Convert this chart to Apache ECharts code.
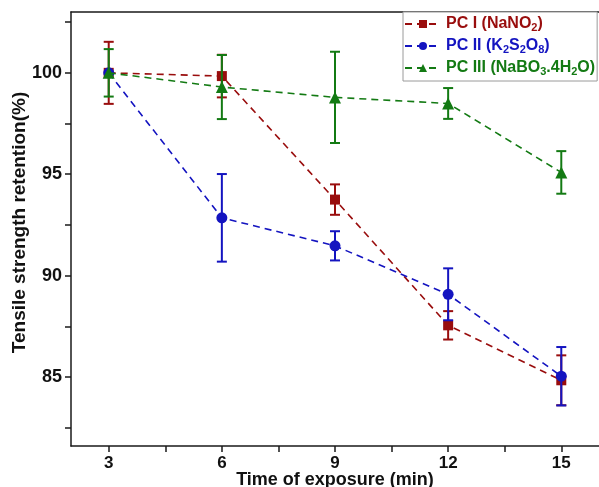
<!DOCTYPE html>
<html>
<head>
<meta charset="utf-8">
<script src="https://cdn.jsdelivr.net/npm/echarts@6/dist/echarts.min.js"></script>
<style>
html,body{margin:0;padding:0;background:#fff;}
#chart{width:599px;height:487px;}
</style>
</head>
<body>
<div id="chart"></div>
<script>
// ---- data ----
const times = [3, 6, 9, 12, 15];
const seriesNames = ['PC I (NaNO2)', 'PC II (K2S2O8)', 'PC III (NaBO3.4H2O)'];
const pc1 = [100, 99.84, 93.75, 87.55, 84.84];
const pc1Err = [1.53, 1.05, 0.75, 0.70, 1.23];
const pc2 = [100, 92.85, 91.47, 89.08, 85.04];
const pc2Err = [0, 2.16, 0.72, 1.28, 1.44];
const pc3 = [100, 99.30, 98.79, 98.49, 95.09];
const pc3Err = [1.17, 1.58, 2.25, 0.76, 1.05];
const xTickLabels = [3, 6, 9, 12, 15];
const xMinorTicks = [4.5, 7.5, 10.5, 13.5];
const yTickLabels = [85, 90, 95, 100];
const yMinorTicks = [82.5, 87.5, 92.5, 97.5, 102.5];

const colors = ['#990d0d', '#1414c0', '#137a13'];
const symbols = ['rect', 'circle', 'triangle'];
const symbolSizes = [10, 11, 12];
const values = [pc1, pc2, pc3];
const errs = [pc1Err, pc2Err, pc3Err];

const chart = echarts.init(document.getElementById('chart'));

function errSeries(idx) {
  const data = times.map((t, i) => [t, values[idx][i] - errs[idx][i], values[idx][i] + errs[idx][i], errs[idx][i]]);
  const color = colors[idx];
  return {
    type: 'custom',
    name: seriesNames[idx] + ' err',
    xAxisIndex: 0, yAxisIndex: 0,
    z: 2 + idx * 2,
    silent: true,
    encode: { x: 0, y: [1, 2] },
    data: data,
    renderItem: function (params, api) {
      if (api.value(3) <= 0) return null;
      const x = api.value(0);
      const top = api.coord([x, api.value(2)]);
      const bot = api.coord([x, api.value(1)]);
      const hw = 5;
      const st = { stroke: color, lineWidth: 2 };
      return {
        type: 'group',
        children: [
          { type: 'line', shape: { x1: top[0], y1: top[1], x2: bot[0], y2: bot[1] }, style: st },
          { type: 'line', shape: { x1: top[0] - hw, y1: top[1], x2: top[0] + hw, y2: top[1] }, style: st },
          { type: 'line', shape: { x1: bot[0] - hw, y1: bot[1], x2: bot[0] + hw, y2: bot[1] }, style: st }
        ]
      };
    }
  };
}

function lineSeries(idx) {
  return {
    type: 'line',
    name: seriesNames[idx],
    xAxisIndex: 0, yAxisIndex: 0,
    z: 3 + idx * 2,
    data: times.map((t, i) => [t, values[idx][i]]),
    symbol: symbols[idx],
    symbolSize: symbolSizes[idx],
    showAllSymbol: true,
    itemStyle: { color: colors[idx] },
    lineStyle: { color: colors[idx], width: 1.6, type: [7, 5] },
    animation: false
  };
}

const richBase = { fontFamily: 'Arial', fontWeight: 'bold', fontSize: 16, lineHeight: 18 };
const richSub = { fontFamily: 'Arial', fontWeight: 'bold', fontSize: 11, lineHeight: 11, verticalAlign: 'bottom' };
const rich = {};
['r', 'b', 'g'].forEach((k, i) => {
  rich[k] = Object.assign({}, richBase, { color: colors[i] });
  rich[k + 's'] = Object.assign({}, richSub, { color: colors[i] });
});

const legendFmt = {};
legendFmt[seriesNames[0]] = '{r|PC I (NaNO}{rs|2}{r|)}';
legendFmt[seriesNames[1]] = '{b|PC II (K}{bs|2}{b|S}{bs|2}{b|O}{bs|8}{b|)}';
legendFmt[seriesNames[2]] = '{g|PC III (NaBO}{gs|3}{g|.4H}{gs|2}{g|O)}';

const axisLineStyle = { color: '#1a1a1a', width: 1.5 };

const option = {
  animation: false,
  backgroundColor: '#ffffff',
  grid: { left: 71, top: 12, right: 0, bottom: 41, containLabel: false, outerBoundsMode: 'none' },
  legend: {
    orient: 'vertical',
    left: 403, top: 12,
    padding: [4, 2, 4, 1],
    itemGap: 5,
    itemWidth: 36, itemHeight: 10,
    backgroundColor: '#ffffff',
    borderColor: '#9a9a9a', borderWidth: 1,
    data: seriesNames,
    formatter: function (name) { return legendFmt[name]; },
    textStyle: { rich: rich, fontSize: 16, fontWeight: 'bold', fontFamily: 'Arial' }
  },
  xAxis: [{
    type: 'value', min: 2, max: 16,
    name: 'Time of exposure (min)', nameLocation: 'middle', nameGap: 25, nameMoveOverlap: false,
    nameTextStyle: { fontFamily: 'Arial', fontWeight: 'bold', fontSize: 18, color: '#111' },
    axisLine: { show: true, lineStyle: axisLineStyle },
    axisTick: { show: true, inside: false, length: 6, customValues: xTickLabels.concat(xMinorTicks), lineStyle: axisLineStyle },
    axisLabel: { show: true, customValues: xTickLabels, margin: 9, fontFamily: 'Arial', fontWeight: 'bold', fontSize: 17, color: '#111' },
    splitLine: { show: false }
  }, {
    type: 'value', min: 2, max: 16, position: 'top',
    axisLine: { show: true, onZero: false, lineStyle: axisLineStyle },
    axisTick: { show: false }, axisLabel: { show: false }, splitLine: { show: false }
  }],
  yAxis: {
    type: 'value', min: 81.6, max: 103,
    name: 'Tensile strength retention(%)', nameLocation: 'middle', nameGap: 42, nameMoveOverlap: false,
    nameTextStyle: { fontFamily: 'Arial', fontWeight: 'bold', fontSize: 19, color: '#111', padding: [0, 0, 0, 13] },
    axisLine: { show: true, lineStyle: axisLineStyle },
    axisTick: { show: true, inside: false, length: 6, customValues: yTickLabels.concat(yMinorTicks), lineStyle: axisLineStyle },
    axisLabel: { show: true, customValues: yTickLabels, margin: 9, fontFamily: 'Arial', fontWeight: 'bold', fontSize: 18, color: '#111' },
    splitLine: { show: false }
  },
  series: [errSeries(0), lineSeries(0), errSeries(1), lineSeries(1), errSeries(2), lineSeries(2)]
};
chart.setOption(option);
</script>
</body>
</html>
